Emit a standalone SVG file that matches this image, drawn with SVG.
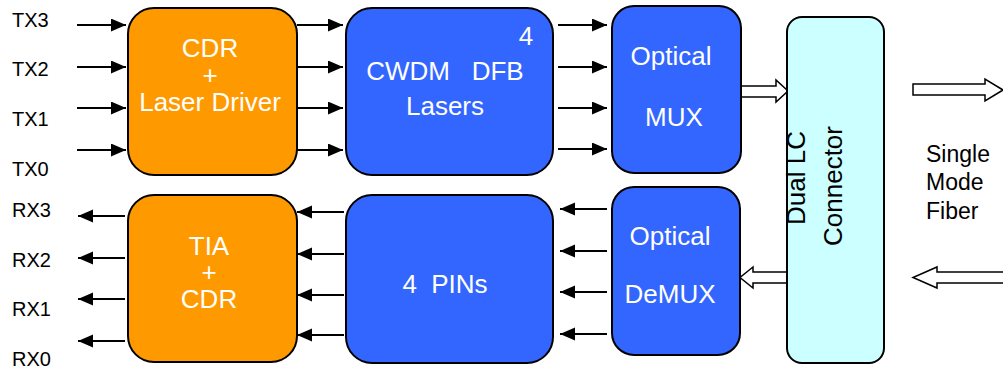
<svg xmlns="http://www.w3.org/2000/svg" width="1003" height="368" viewBox="0 0 1003 368">
<defs>
<marker id="ah" markerUnits="userSpaceOnUse" markerWidth="16" markerHeight="14" refX="15" refY="6.5" orient="auto">
<path d="M0,0 L15,6.5 L0,13 z" fill="#000"/>
</marker>
<style>
.lbl{font-family:"Liberation Sans",Arial,sans-serif;font-size:20px;fill:#000}
.fib{font-family:"Liberation Sans",Arial,sans-serif;font-size:23px;fill:#000}
.bt{font-family:"Liberation Sans",Arial,sans-serif;font-size:26px;fill:#fff;text-anchor:middle}
.ct{font-family:"Liberation Sans",Arial,sans-serif;font-size:26px;fill:#000;text-anchor:middle}
.or{fill:#FF9900;stroke:#000;stroke-width:2}
.bl{fill:#3366FF;stroke:#000;stroke-width:2}
.cy{fill:#CCFFFF;stroke:#000;stroke-width:2}
.ar{stroke:#000;stroke-width:2;fill:none;marker-end:url(#ah)}
.ha{fill:#fff;stroke:#000;stroke-width:1.5}
</style>
</defs>
<rect width="1003" height="368" fill="#fff"/>

<g id="labels">
<text class="lbl" x="12" y="27">TX3</text>
<text class="lbl" x="12" y="76">TX2</text>
<text class="lbl" x="12" y="126">TX1</text>
<text class="lbl" x="12" y="176">TX0</text>
<text class="lbl" x="12" y="217">RX3</text>
<text class="lbl" x="12" y="267">RX2</text>
<text class="lbl" x="12" y="316">RX1</text>
<text class="lbl" x="12" y="366">RX0</text>
<text class="fib" x="926" y="162">Single</text>
<text class="fib" x="926" y="190">Mode</text>
<text class="fib" x="926" y="219">Fiber</text>
</g>

<g id="connectors">
<line class="ar" x1="77" y1="25" x2="126" y2="25"/>
<line class="ar" x1="77" y1="67" x2="126" y2="67"/>
<line class="ar" x1="77" y1="108" x2="126" y2="108"/>
<line class="ar" x1="77" y1="150" x2="126" y2="150"/>
<line class="ar" x1="297" y1="25" x2="343" y2="25"/>
<line class="ar" x1="297" y1="67" x2="343" y2="67"/>
<line class="ar" x1="297" y1="108" x2="343" y2="108"/>
<line class="ar" x1="297" y1="150" x2="343" y2="150"/>
<line class="ar" x1="558" y1="25" x2="607" y2="25"/>
<line class="ar" x1="558" y1="67" x2="607" y2="67"/>
<line class="ar" x1="558" y1="108" x2="607" y2="108"/>
<line class="ar" x1="558" y1="149" x2="607" y2="149"/>
<line class="ar" x1="125" y1="216" x2="78" y2="216"/>
<line class="ar" x1="125" y1="258" x2="78" y2="258"/>
<line class="ar" x1="125" y1="299" x2="78" y2="299"/>
<line class="ar" x1="125" y1="341" x2="78" y2="341"/>
<line class="ar" x1="344" y1="212" x2="297" y2="212"/>
<line class="ar" x1="344" y1="254" x2="297" y2="254"/>
<line class="ar" x1="344" y1="295" x2="297" y2="295"/>
<line class="ar" x1="344" y1="335" x2="297" y2="335"/>
<line class="ar" x1="607" y1="209" x2="560" y2="209"/>
<line class="ar" x1="607" y1="251" x2="560" y2="251"/>
<line class="ar" x1="607" y1="292" x2="560" y2="292"/>
<line class="ar" x1="607" y1="334" x2="560" y2="334"/>
<polygon class="ha" points="741,86 776,86 776,80 788,91 776,102 776,97 741,97"/>
<polygon class="ha" points="787,272 753,272 753,267 740,277.5 753,288 753,283 787,283"/>
<polygon class="ha" points="913,84 985,84 985,79 1003,90 985,101 985,95 913,95"/>
<polygon class="ha" points="1010,272 937,272 937,267 913,277.5 937,288 937,283 1010,283"/>
</g>

<g id="cdr-laser-driver">
<rect class="or" x="128" y="8" width="169" height="167" rx="26"/>
<text class="bt" x="210" y="57">CDR</text>
<text class="bt" x="210" y="84">+</text>
<text class="bt" x="210" y="111">Laser Driver</text>
</g>

<g id="cwdm-dfb-lasers">
<rect class="bl" x="346" y="8" width="207" height="167" rx="26"/>
<text class="bt" x="526" y="45">4</text>
<text class="bt" x="445" y="80" style="white-space:pre">CWDM   DFB</text>
<text class="bt" x="445" y="115">Lasers</text>
</g>

<g id="optical-mux">
<rect class="bl" x="612" y="6" width="129" height="167" rx="22"/>
<text class="bt" x="671" y="65">Optical</text>
<text class="bt" x="674" y="126">MUX</text>
</g>

<g id="tia-cdr">
<rect class="or" x="128" y="195" width="169" height="167" rx="26"/>
<text class="bt" x="209" y="255">TIA</text>
<text class="bt" x="209" y="281">+</text>
<text class="bt" x="209" y="308">CDR</text>
</g>

<g id="pins">
<rect class="bl" x="346" y="195" width="207" height="168" rx="26"/>
<text class="bt" x="445" y="293" style="white-space:pre">4  PINs</text>
</g>

<g id="optical-demux">
<rect class="bl" x="612" y="187" width="128" height="168" rx="22"/>
<text class="bt" x="670" y="245">Optical</text>
<text class="bt" x="670" y="303">DeMUX</text>
</g>

<g id="dual-lc-connector">
<rect class="cy" x="787" y="17" width="97" height="346" rx="15"/>
<text class="ct" transform="translate(805,178) rotate(-90)">Dual LC</text>
<text class="ct" transform="translate(842,186) rotate(-90)">Connector</text>
</g>
</svg>
